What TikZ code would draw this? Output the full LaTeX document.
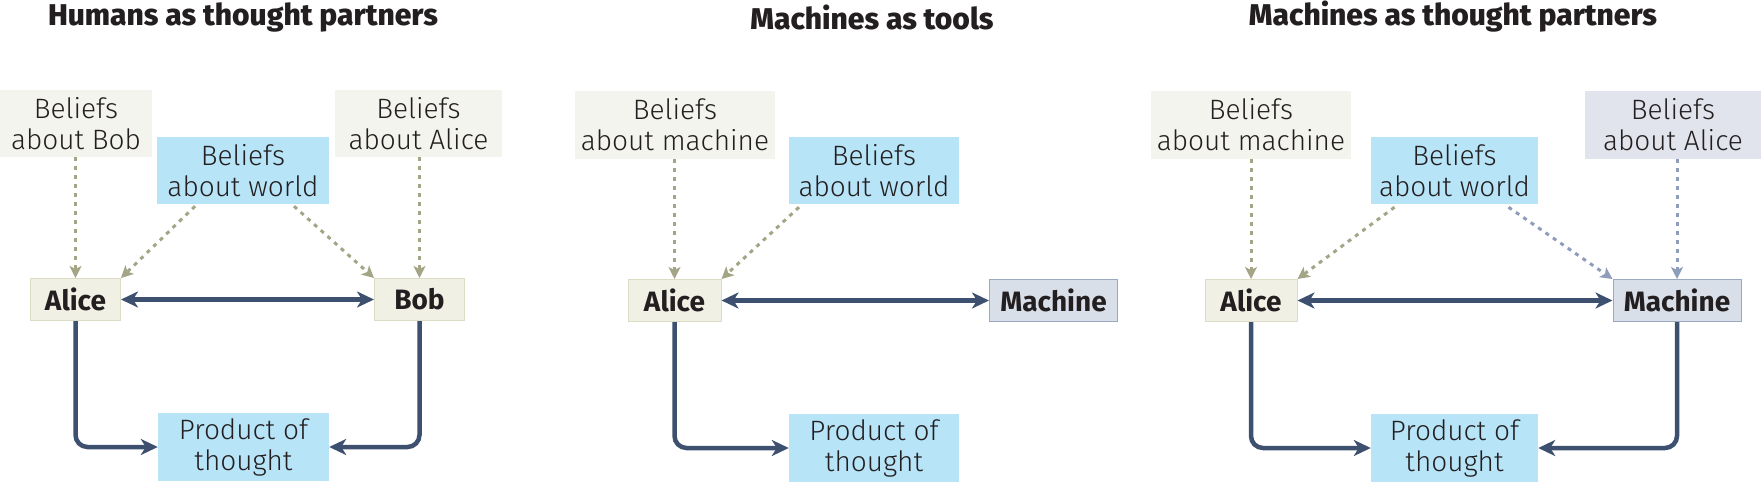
\documentclass[tikz,border=0pt]{standalone}
\usepackage{fontspec}
\setmainfont{Fira Sans Light}[BoldFont=Fira Sans Bold]
\newfontfamily\headfont{Fira Sans ExtraBold}
\usetikzlibrary{arrows.meta,positioning}
\definecolor{sand}{HTML}{F4F4EE}
\definecolor{sandfill}{HTML}{F0F0E5}
\definecolor{sandline}{HTML}{DCDCC4}
\definecolor{sky}{HTML}{B8E4F8}
\definecolor{steel}{HTML}{D9DFE9}
\definecolor{steelline}{HTML}{9AA8C2}
\definecolor{mist}{HTML}{E1E4EC}
\definecolor{ink}{HTML}{3D5070}
\definecolor{olive}{HTML}{A4A486}
\definecolor{slate}{HTML}{8E9DB9}
\definecolor{txt}{HTML}{231F20}
\tikzset{
  belief/.style={fill=sand,text=txt,align=center,inner sep=0pt,minimum width=170pt,
    minimum height=67pt,font=\fontsize{28}{31}\selectfont},
  world/.style={belief,fill=sky},
  agent/.style={fill=sandfill,draw=sandline,line width=1pt,text=txt,inner sep=0pt,
    minimum width=90pt,minimum height=42pt,font=\fontsize{28}{31}\selectfont\bfseries},
  machine/.style={agent,fill=steel,draw=steelline,minimum width=128pt},
  title/.style={text=txt,inner sep=0pt,font=\fontsize{30}{34}\headfont},
  flow/.style={draw=ink,line width=4.5pt,rounded corners=12pt,
    -{Stealth[length=17pt,width=16pt,inset=5pt]}},
  link/.style={flow,{Stealth[length=17pt,width=16pt,inset=5pt]}-{Stealth[length=17pt,width=16pt,inset=5pt]}},
  hint/.style={draw=olive,line width=3pt,dash pattern=on 4pt off 5pt,
    -{Stealth[length=12pt,width=12pt,inset=3pt]}},
  mhint/.style={hint,draw=slate}
}
\begin{document}
\begin{tikzpicture}[x=1pt,y=-1pt]
\useasboundingbox (0,0) rectangle (1761,482);

% humans as thought partners
\node[title] (title1) at (243,17) {Humans as thought partners};
\node[belief,minimum width=152pt] (bobbel1) at (76,123.5) {Beliefs\\about Bob};
\node[world,minimum width=172pt] (world1) at (243,170.5) {Beliefs\\about world};
\node[belief,minimum width=167pt] (alicebel1) at (418.5,123.5) {Beliefs\\about Alice};
\node[agent] (alice1) at (75.5,299.5) {Alice};
\node[agent] (bob1) at (419.5,299.5) {Bob};
\node[world,minimum width=171pt,minimum height=68pt] (prod1) at (243.5,447) {Product of\\thought};
\draw[hint] (alice1.north |- bobbel1.south) -- (alice1.north);
\draw[hint] ([xshift=-48pt,yshift=-2pt]world1.south) -- (alice1.north east);
\draw[hint] ([xshift=51pt,yshift=-2pt]world1.south) -- (bob1.north west);
\draw[hint] (bob1.north |- alicebel1.south) -- (bob1.north);
\draw[link] (alice1) -- (bob1);
\draw[flow] (alice1.south) |- (prod1.west);
\draw[flow] (bob1.south) |- (prod1.east);

% machines as tools
\node[title] (title2) at (872,17) {Machines as tools};
\node[belief,minimum width=200pt,minimum height=68pt] (machbel2) at (675,125) {Beliefs\\about machine};
\node[world] (world2) at (874,170.5) {Beliefs\\about world};
\node[agent,minimum width=93pt] (alice2) at (674.5,300.5) {Alice};
\node[machine] (mach2) at (1053.5,300.5) {Machine};
\node[world,minimum height=68pt] (prod2) at (874,448) {Product of\\thought};
\draw[hint] (alice2.north |- machbel2.south) -- (alice2.north);
\draw[hint] ([xshift=-75pt,yshift=-3pt]world2.south) -- (alice2.north east);
\draw[link] (alice2) -- (mach2);
\draw[flow] (alice2.south) |- (prod2.west);

% machines as thought partners
\node[title] (title3) at (1453,17) {Machines as thought partners};
\node[belief,minimum width=200pt,minimum height=68pt] (machbel3) at (1251,125) {Beliefs\\about machine};
\node[world,minimum width=167pt] (world3) at (1454.5,170.5) {Beliefs\\about world};
\node[belief,fill=mist,minimum width=176pt,minimum height=68pt] (alicebel3) at (1673,125) {Beliefs\\about Alice};
\node[agent,minimum width=92pt] (alice3) at (1251,300.5) {Alice};
\node[machine] (mach3) at (1677,300.5) {Machine};
\node[world,minimum width=167pt,minimum height=68pt] (prod3) at (1454.5,448) {Product of\\thought};
\draw[hint] (alice3.north |- machbel3.south) -- (alice3.north);
\draw[hint] ([xshift=-60pt,yshift=-3pt]world3.south) -- (alice3.north east);
\draw[mhint] ([xshift=54pt,yshift=-3pt]world3.south) -- (mach3.north west);
\draw[mhint] (mach3.north |- alicebel3.south) -- (mach3.north);
\draw[link] (alice3) -- (mach3);
\draw[flow] (alice3.south) |- (prod3.west);
\draw[flow] (mach3.south) |- (prod3.east);
\end{tikzpicture}
\end{document}
